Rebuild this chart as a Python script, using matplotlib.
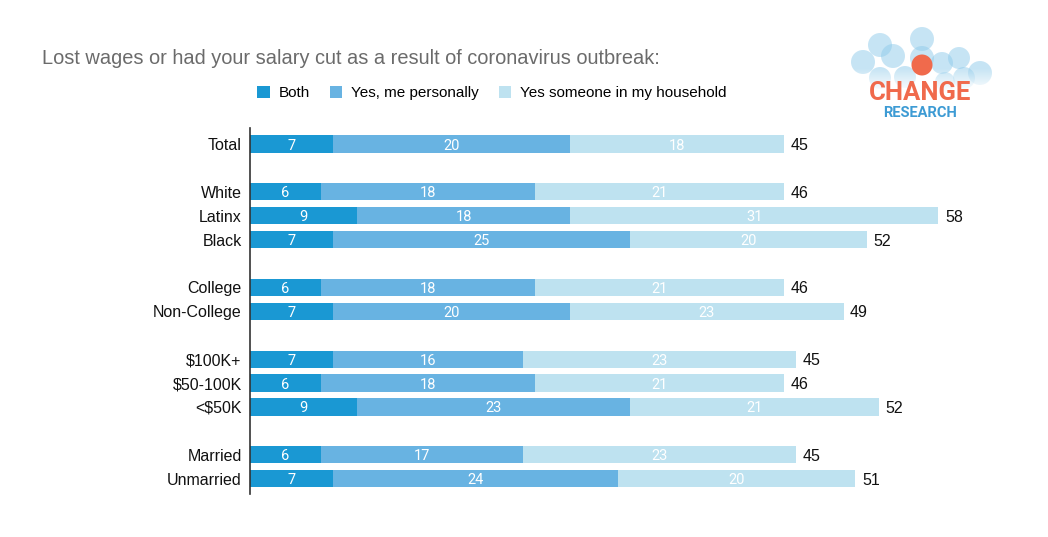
import matplotlib
matplotlib.use('Agg')
import matplotlib.pyplot as plt
from matplotlib.patches import Circle, Patch
import numpy as np

plt.rcParams['font.family'] = ['Liberation Sans', 'DejaVu Sans']

# data
groups = ['Total', 'White', 'Latinx', 'Black', 'College', 'Non-College',
          '$100K+', '$50-100K', '<$50K', 'Married', 'Unmarried']
rows = [0, 2, 3, 4, 6, 7, 9, 10, 11, 13, 14]
both = [7, 6, 9, 7, 6, 7, 7, 6, 9, 6, 7]
personally = [20, 18, 18, 25, 18, 20, 16, 18, 23, 17, 24]
household = [18, 21, 31, 20, 21, 23, 23, 21, 21, 23, 20]
totals = [45, 46, 58, 52, 46, 49, 45, 46, 52, 45, 51]

series_names = ['Both', 'Yes, me personally', 'Yes someone in my household']
colors = ['#1a98d3', '#68b3e2', '#bee2f0']

W, H = 1048, 537
fig = plt.figure(figsize=(W / 100, H / 100), dpi=100)

ax = fig.add_axes([250 / W, 1 - 494 / H, (1020 - 250) / W, (494 - 128) / H])
ax.set_xlim(0, 770 / 11.87)
ax.set_ylim(14.64, -0.67)

left = np.zeros(len(rows))
for vals, c in zip([both, personally, household], colors):
    vals = np.array(vals, dtype=float)
    ax.barh(rows, vals, left=left, height=0.72, color=c, linewidth=0)
    for y, l, v in zip(rows, left, vals):
        ax.text(l + v / 2, y, f'{int(v)}', color='white', ha='center',
                va='center_baseline', fontsize=10.5, family=['Roboto', 'DejaVu Sans'])
    left += vals

for y, l, t in zip(rows, left, totals):
    ax.text(l + 0.55, y, str(t), ha='left', va='center_baseline', fontsize=11.5,
            color='#111111')

ax.set_yticks(rows)
ax.set_yticklabels(groups, fontsize=11.5, color='#111111')
ax.tick_params(axis='y', length=0, pad=6)
ax.set_xticks([])
for s in ['top', 'right', 'bottom']:
    ax.spines[s].set_visible(False)
ax.spines['left'].set_color('#333333')
ax.spines['left'].set_linewidth(1.2)

fig.text(42 / W, 1 - 59 / H, 'Lost wages or had your salary cut as a result of coronavirus outbreak:',
         fontsize=14.4, color='#6b6b6b', va='center', ha='left')

handles = [Patch(facecolor=c, edgecolor='none') for c in colors]
fig.legend(handles, series_names, loc='center', bbox_to_anchor=(492 / W, 1 - 93 / H),
           ncol=3, frameon=False, fontsize=11, handlelength=0.8, handleheight=0.8,
           handletextpad=0.6, columnspacing=1.3)

# logo
lax = fig.add_axes([840 / W, 1 - 130 / H, 170 / W, 110 / H])
lax.set_xlim(840, 1010)
lax.set_ylim(130, 20)
lax.set_aspect('equal')
lax.axis('off')
circles = [(880, 45, 12), (922, 39, 12), (863, 62, 12), (893, 56, 12),
           (922, 58, 12), (942, 63, 11), (959, 58, 11), (980, 73, 12),
           (964, 78, 11), (880, 78, 11), (905, 77, 11), (945, 82, 10)]
for x, y, r in circles:
    lax.add_patch(Circle((x, y), r, color='#8fcbeb', alpha=0.5, lw=0))
# fade towards the bottom of the bubble cluster
fade = np.linspace(0, 1, 50).reshape(-1, 1)
lax.imshow(np.dstack([np.ones((50, 1, 3)), fade]), extent=(840, 1010, 92, 68),
           aspect='auto', zorder=3)
lax.add_patch(Circle((922, 65), 10.5, color='#f06a4c', lw=0, zorder=4))
lax.text(920, 93, 'CHANGE', color='#f06a4c', fontsize=18.5, fontweight='bold',
         ha='center', va='center', family=['Roboto', 'DejaVu Sans'], zorder=5)
lax.text(920, 113, 'RESEARCH', color='#3d9bd4', fontsize=10.5, fontweight='bold',
         ha='center', va='center', family=['Roboto', 'DejaVu Sans'], zorder=5)
lax.set_xlim(840, 1010)
lax.set_ylim(130, 20)

fig.savefig('out.png', dpi=100)
